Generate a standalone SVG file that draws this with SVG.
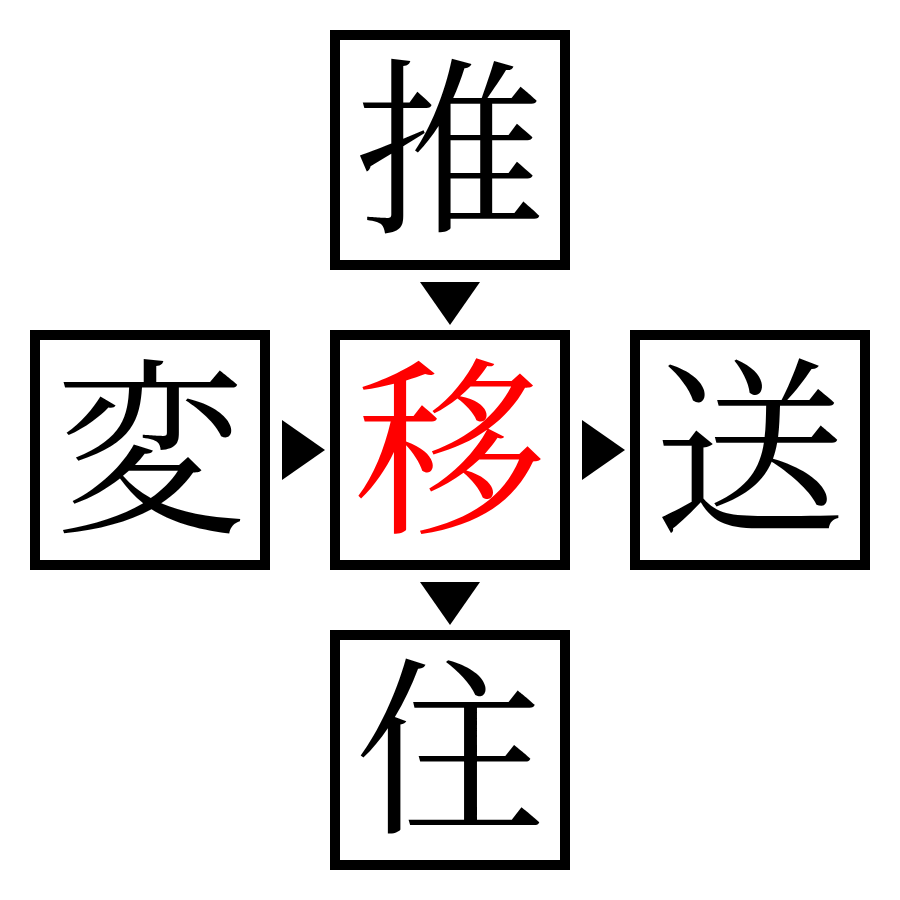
<svg xmlns="http://www.w3.org/2000/svg" width="900" height="900" viewBox="0 0 900 900">
<style>
.box{fill:#fff;stroke:#000;stroke-width:10}
.ch{font-family:"Noto Serif CJK JP","Noto Sans CJK JP",serif;font-size:190px;text-anchor:middle;fill:#000}
.red{fill:#ff0000}
.arr{fill:#000}
</style>
<rect width="900" height="900" fill="#fff"/>
<g id="connectors">
<polygon class="arr" points="420,282 480,282 450,325"/>
<polygon class="arr" points="420,582 480,582 450,625"/>
<polygon class="arr" points="282,420 282,480 325,450"/>
<polygon class="arr" points="582,420 582,480 625,450"/>
</g>
<g id="node-top"><rect class="box" x="335" y="35" width="230" height="230"/><text class="ch" x="450" y="218">推</text></g>
<g id="node-left"><rect class="box" x="35" y="335" width="230" height="230"/><text class="ch" x="150" y="518">変</text></g>
<g id="node-center"><rect class="box" x="335" y="335" width="230" height="230"/><text class="ch red" x="450" y="518">移</text></g>
<g id="node-right"><rect class="box" x="635" y="335" width="230" height="230"/><text class="ch" x="750" y="518">送</text></g>
<g id="node-bottom"><rect class="box" x="335" y="635" width="230" height="230"/><text class="ch" x="450" y="818">住</text></g>
</svg>
